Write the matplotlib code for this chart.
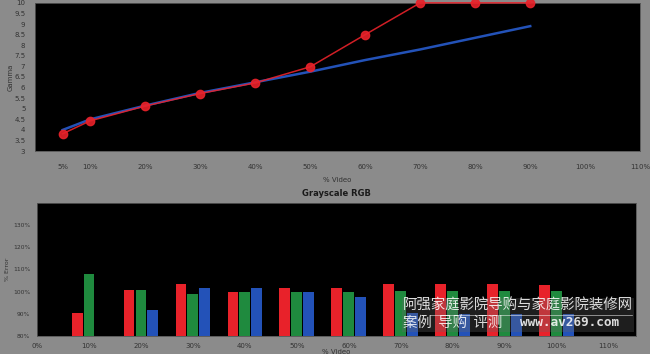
import matplotlib.pyplot as plt
import numpy as np

# gamma chart
gamma_x = [5, 10, 20, 30, 40, 50, 60, 70, 80, 90]
gamma_measured = [3.82, 4.43, 5.13, 5.72, 6.22, 6.98, 8.5, 10.0, 10.0, 10.0]
gamma_target = [4.0, 4.5, 5.15, 5.75, 6.25, 6.75, 7.3, 7.8, 8.35, 8.9]
gamma_ticks = [5, 10, 20, 30, 40, 50, 60, 70, 80, 90, 100, 110]
gamma_yticks = [3, 3.5, 4, 4.5, 5, 5.5, 6, 6.5, 7, 7.5, 8, 8.5, 9, 9.5, 10]

# grayscale RGB chart
rgb_x = [10, 20, 30, 40, 50, 60, 70, 80, 90, 100]
red_vals = [90.2, 100.6, 103.2, 99.6, 101.5, 101.7, 103.2, 103.2, 103.2, 103.0]
green_vals = [107.8, 100.9, 98.8, 99.9, 99.7, 99.9, 100.3, 100.3, 100.3, 100.3]
blue_vals = [np.nan, 91.5, 101.7, 101.8, 99.6, 97.6, 90.2, 90.0, 90.0, 89.8]
rgb_ticks = [0, 10, 20, 30, 40, 50, 60, 70, 80, 90, 100, 110]
rgb_yticks = [80, 90, 100, 110, 120, 130]

BG = "#8b8b8b"
TXT = "#333333"
RED = "#e8222a"
GREEN = "#1f8a3e"
BLUE = "#2352b8"

plt.rcParams["font.family"] = ["DejaVu Sans"]
fig = plt.figure(figsize=(6.5, 3.54), dpi=100, facecolor=BG)

ax1 = fig.add_axes([0.054, 0.573, 0.931, 0.419])
ax1.set_facecolor("black")
ax1.plot(gamma_x, gamma_target, color=BLUE, linewidth=1.8, zorder=2)
ax1.plot(gamma_x, gamma_measured, color=RED, linewidth=1.1, marker="o", markersize=6,
         markerfacecolor=RED, markeredgecolor=RED, alpha=0.9, clip_on=False, zorder=3)
ax1.set_xlim(0, 110)
ax1.set_ylim(3, 10)
ax1.set_xticks(gamma_ticks)
ax1.set_xticklabels([f"{t}%" for t in gamma_ticks])
ax1.set_yticks(gamma_yticks)
ax1.set_yticklabels([f"{t:g}" for t in gamma_yticks])
ax1.tick_params(length=0, labelsize=5, colors=TXT, pad=7)
ax1.tick_params(axis="x", pad=9)
ax1.set_xlabel("% Video", fontsize=5, color=TXT, labelpad=5)
ax1.set_ylabel("Gamma", fontsize=5, color=TXT)
ax1.yaxis.set_label_coords(-0.036, 0.5)
for s in ax1.spines.values():
    s.set_color("#555555")
    s.set_linewidth(0.6)

ax2 = fig.add_axes([0.057, 0.051, 0.921, 0.376])
ax2.set_facecolor("black")
x = np.array(rgb_x, dtype=float)
step = 2.3
width = 2.1
ax2.bar(x - step, red_vals, width=width, color=RED, zorder=2)
ax2.bar(x, green_vals, width=width, color=GREEN, zorder=2)
ax2.bar(x + step, blue_vals, width=width, color=BLUE, zorder=2)
ax2.set_xlim(0, 115.2)
ax2.set_ylim(80, 140)
ax2.set_xticks(rgb_ticks)
ax2.set_xticklabels([f"{t}%" for t in rgb_ticks])
ax2.set_yticks(rgb_yticks)
ax2.set_yticklabels([f"{t}%" for t in rgb_yticks])
ax2.tick_params(length=0, labelsize=5, colors=TXT, pad=5)
ax2.tick_params(axis="y", labelsize=4.3, pad=5)
ax2.set_xlabel("% Video", fontsize=5, color=TXT, labelpad=0)
ax2.set_ylabel("% Error", fontsize=4.5, color=TXT)
ax2.yaxis.set_label_coords(-0.046, 0.5)
ax2.set_title("Grayscale RGB", fontsize=6, fontweight="bold", color="#1a1a1a", pad=5)
for s in ax2.spines.values():
    s.set_color("#555555")
    s.set_linewidth(0.6)

# watermark
fig.patches.append(plt.Rectangle((402 / 650, 1 - 332 / 354), 232 / 650, 34 / 354,
                                 transform=fig.transFigure, facecolor="#666666",
                                 alpha=0.3, edgecolor="none", zorder=5))
wm = ["Noto Sans CJK SC", "DejaVu Sans"]
fig.text(403 / 650, 1 - 306 / 354, "阿强家庭影院导购与家庭影院装修网", fontsize=10.4,
         color="white", family=wm, va="center", ha="left", alpha=0.85, zorder=6)
fig.text(403 / 650, 1 - 323 / 354, "案例  导购  评测", fontsize=10.4,
         color="white", family=wm, va="center", ha="left", alpha=0.85, zorder=6)
fig.text(520 / 650, 1 - 323 / 354, "www.av269.com", fontsize=9.2,
         color="white", family="DejaVu Sans Mono", fontweight="bold", va="center",
         ha="left", alpha=0.85, zorder=6)
fig.lines.append(plt.Line2D([430 / 650, 632 / 650], [1 - 314.5 / 354, 1 - 314.5 / 354],
                            transform=fig.transFigure, color="white", linewidth=0.5,
                            alpha=0.7, zorder=6))

fig.savefig("out.png", dpi=100, facecolor=BG)
